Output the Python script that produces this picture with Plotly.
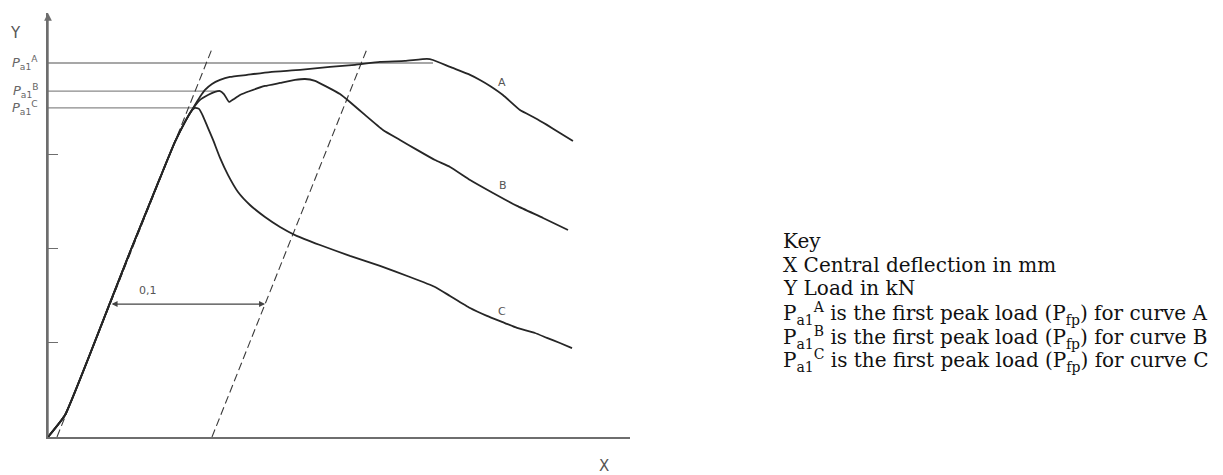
import plotly.graph_objects as go

# Load–deflection curves (x: central deflection in mm, y: load in kN)
common_x = [0.0, 0.0110, 0.0400, 0.0529, 0.0723, 0.0819, 0.0884]
common_y = [0.0, 1.17, 7.13, 9.84, 13.78, 15.69, 16.76]

curve_a_x = [0.0929, 0.0981, 0.1013, 0.1058, 0.1110, 0.1174, 0.1284, 0.1432, 0.1626,
             0.1819, 0.1981, 0.2142, 0.2303, 0.2445, 0.2484, 0.2594, 0.2723, 0.2787,
             0.2852, 0.2935, 0.3045, 0.3142, 0.3219, 0.3303, 0.3387]
curve_a_y = [17.39, 18.09, 18.46, 18.78, 18.99, 19.15, 19.26, 19.41, 19.52,
             19.68, 19.79, 19.95, 20.00, 20.11, 20.05, 19.68, 19.26, 18.99,
             18.67, 18.19, 17.39, 16.97, 16.60, 16.17, 15.74]

curve_b_x = [0.0929, 0.0981, 0.1032, 0.1077, 0.1110, 0.1135, 0.1168, 0.1200, 0.1239,
             0.1303, 0.1400, 0.1497, 0.1594, 0.1658, 0.1723, 0.1800, 0.1884, 0.1948,
             0.2045, 0.2161, 0.2271, 0.2381, 0.2497, 0.2594, 0.2723, 0.2871, 0.3026,
             0.3194, 0.3355]
curve_b_y = [17.39, 17.93, 18.19, 18.35, 18.40, 18.24, 17.82, 17.98, 18.19,
             18.40, 18.67, 18.83, 18.99, 19.04, 18.94, 18.62, 18.24, 17.82,
             17.13, 16.33, 15.80, 15.27, 14.73, 14.36, 13.67, 12.98, 12.29,
             11.65, 11.01]

curve_c_x = [0.0916, 0.0948, 0.0974, 0.1000, 0.1032, 0.1065, 0.1110, 0.1161, 0.1226,
             0.1303, 0.1400, 0.1497, 0.1594, 0.1755, 0.1948, 0.2142, 0.2335, 0.2497,
             0.2594, 0.2723, 0.2832, 0.2948, 0.3026, 0.3142, 0.3219, 0.3303, 0.3381]
curve_c_y = [17.23, 17.50, 17.45, 17.07, 16.44, 15.80, 14.84, 13.94, 13.03,
             12.34, 11.70, 11.17, 10.74, 10.21, 9.63, 9.10, 8.51, 7.98,
             7.50, 6.86, 6.44, 6.06, 5.80, 5.53, 5.27, 5.00, 4.73]

# First peak loads
peak_names = ["A", "B", "C"]
peak_loads = [19.89, 18.40, 17.50]
peak_x_end = [0.2484, 0.1110, 0.0948]

# Offset construction lines (parallel to the elastic slope, 0,1 mm apart)
offset_x0 = 0.0058
offset_mm = 0.1
offset_top = 20.64
elastic_slope = 206.4  # kN/mm

# Unlabelled load ticks
load_ticks = [5, 10, 15]

x_max = 0.3755
y_max = 22.55

curve_color = "#262626"
grey = "#6e6e6e"

fig = go.Figure()

# peak load reference lines
for name, p, xe in zip(peak_names, peak_loads, peak_x_end):
    fig.add_trace(go.Scatter(x=[0, xe], y=[p, p], mode="lines",
                             line=dict(color="#8a8a8a", width=1.3),
                             hoverinfo="skip", showlegend=False))

# dashed offset lines
for shift in (0.0, offset_mm):
    x0 = offset_x0 + shift
    fig.add_trace(go.Scatter(x=[x0, x0 + offset_top / elastic_slope], y=[0, offset_top],
                             mode="lines",
                             line=dict(color="#3a3a3a", width=1.1, dash="8px,4px"),
                             hoverinfo="skip", showlegend=False))

# the three curves share the elastic branch
for cx, cy in ((curve_a_x, curve_a_y), (curve_b_x, curve_b_y), (curve_c_x, curve_c_y)):
    fig.add_trace(go.Scatter(x=common_x + cx, y=common_y + cy, mode="lines",
                             line=dict(color=curve_color, width=1.8, shape="spline", smoothing=0.4),
                             hoverinfo="skip", showlegend=False))

annotations = []

# Y axis arrowhead
annotations.append(dict(x=0, y=y_max, ax=0, ay=0, xref="x", yref="y", axref="x", ayref="y",
                        showarrow=True, arrowhead=2, arrowsize=1.1, arrowwidth=1.4,
                        arrowcolor=grey, text=""))

# 0,1 dimension arrow
dim_y = 7.07
annotations.append(dict(x=offset_x0 + offset_mm + dim_y / elastic_slope, y=dim_y,
                        ax=offset_x0 + dim_y / elastic_slope, ay=dim_y,
                        xref="x", yref="y", axref="x", ayref="y",
                        showarrow=True, arrowhead=2, startarrowhead=2, arrowside="end+start",
                        arrowsize=1, startarrowsize=1, arrowwidth=1.2, arrowcolor="#444",
                        text=""))
annotations.append(dict(x=0.0645, y=dim_y + 0.25, xref="x", yref="y", text="0,1",
                        showarrow=False, yanchor="bottom",
                        font=dict(family="DejaVu Sans", size=11, color="#555")))

# curve labels
for name, lx, ly in (("A", 0.2929, 18.88), ("B", 0.2935, 13.40), ("C", 0.2929, 6.65)):
    annotations.append(dict(x=lx, y=ly, xref="x", yref="y", text=name, showarrow=False,
                            font=dict(family="DejaVu Sans", size=11, color="#555")))

# peak load labels
for name, p in zip(peak_names, peak_loads):
    annotations.append(dict(x=-0.013, y=p, xref="paper", yref="y", xanchor="right",
                            yanchor="middle",
                            text=f"<i>P</i><sub>a1</sub><sup>{name}</sup>", showarrow=False,
                            font=dict(family="DejaVu Sans", size=13, color="#666")))

# axis names
annotations.append(dict(x=-0.055, y=0.953, xref="paper", yref="paper", text="Y", showarrow=False,
                        xanchor="center", yanchor="middle",
                        font=dict(family="DejaVu Sans", size=15, color="#555")))
annotations.append(dict(x=0.955, y=-0.068, xref="paper", yref="paper", text="X", showarrow=False,
                        xanchor="center", yanchor="middle",
                        font=dict(family="DejaVu Sans", size=15, color="#555")))

# key
key_lines = [
    "Key",
    "X Central deflection in mm",
    "Y Load in kN",
    "P<sub>a1</sub><sup>A</sup> is the first peak load (P<sub>fp</sub>) for curve A",
    "P<sub>a1</sub><sup>B</sup> is the first peak load (P<sub>fp</sub>) for curve B",
    "P<sub>a1</sub><sup>C</sup> is the first peak load (P<sub>fp</sub>) for curve C",
]
key_y = [0.4623, 0.4057, 0.3514, 0.2901, 0.2358, 0.1816]
for t, ky in zip(key_lines, key_y):
    annotations.append(dict(x=1.2595, y=ky, xref="paper", yref="paper", text=t,
                            xanchor="left", yanchor="middle", showarrow=False,
                            font=dict(family="DejaVu Serif", size=20, color="#111")))

fig.update_layout(
    width=1223, height=475,
    margin=dict(l=48, r=593, t=13, b=38),
    paper_bgcolor="white", plot_bgcolor="white",
    xaxis=dict(range=[0, x_max], showline=True, linecolor=grey, linewidth=1.5,
               showgrid=False, zeroline=False, showticklabels=False, ticks=""),
    yaxis=dict(range=[0, y_max], showline=True, linecolor=grey, linewidth=1.5,
               showgrid=False, zeroline=False, tickvals=load_ticks, ticktext=["", "", ""],
               ticks="inside", ticklen=10, tickcolor=grey, tickwidth=1.3),
    annotations=annotations,
    showlegend=False,
)

fig.write_html("out.html")
